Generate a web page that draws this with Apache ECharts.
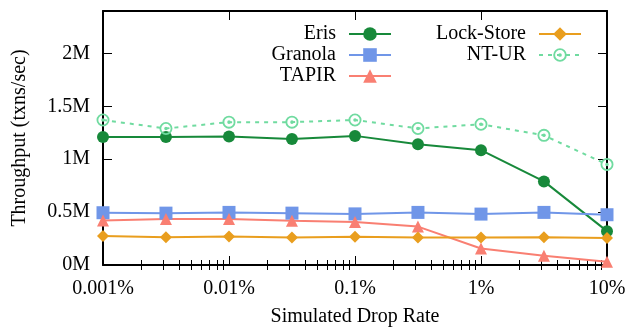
<!DOCTYPE html>
<html>
<head>
<meta charset="utf-8">
<script src="https://cdn.jsdelivr.net/npm/echarts@6/dist/echarts.min.js"></script>
<style>
  html, body { margin: 0; padding: 0; background: #fff; }
  #chart { width: 628px; height: 328px; }
</style>
</head>
<body>
<div id="chart"></div>
<script>
// drop rate (%) at each measured point
const dropRates = [0.001, 0.00316, 0.01, 0.0316, 0.1, 0.316, 1, 3.16, 10];

// throughput, txns/sec
const eris      = [1.21e6, 1.21e6, 1.215e6, 1.19e6, 1.22e6, 1.14e6, 1.085e6, 0.79e6, 0.32e6];
const granola   = [0.494e6, 0.49e6, 0.497e6, 0.49e6, 0.483e6, 0.497e6, 0.481e6, 0.497e6, 0.475e6];
const tapir     = [0.42e6, 0.435e6, 0.435e6, 0.418e6, 0.406e6, 0.363e6, 0.156e6, 0.087e6, 0.03e6];
const lockStore = [0.275e6, 0.262e6, 0.269e6, 0.26e6, 0.266e6, 0.26e6, 0.26e6, 0.262e6, 0.256e6];
const ntUr      = [1.37e6, 1.29e6, 1.35e6, 1.35e6, 1.37e6, 1.29e6, 1.33e6, 1.225e6, 0.95e6];

const xMajorTicks = [0.001, 0.01, 0.1, 1, 10];
const yTicks = [0, 0.5e6, 1e6, 1.5e6, 2e6];

const xMinorTicks = [];
for (const d of xMajorTicks.slice(0, -1))
  for (let k = 2; k <= 9; k++) xMinorTicks.push(+(k * d).toPrecision(3));

const FONT = "Liberation Serif";
const pts = ys => dropRates.map((x, i) => [x, ys[i]]);

// open circle with a dot in the middle
const ringDot = "path://M10,0A10,10 0 1,1 10,20A10,10 0 1,1 10,0Z" +
  "M10,2.8A7.2,7.2 0 1,0 10,17.2A7.2,7.2 0 1,0 10,2.8Z" +
  "M10,7.3A2.7,2.7 0 1,1 10,12.7A2.7,2.7 0 1,1 10,7.3Z";

const SER = [
  { name: "Eris",       data: eris,      color: "#17893a", symbol: "circle",   size: 12 },
  { name: "Granola",    data: granola,   color: "#7096e8", symbol: "rect",     size: 13 },
  { name: "TAPIR",      data: tapir,     color: "#f97f72", symbol: "triangle", size: 12 },
  { name: "Lock-Store", data: lockStore, color: "#e99e1e", symbol: "diamond",  size: 12 },
  { name: "NT-UR",      data: ntUr,      color: "#70dba0", symbol: ringDot,    size: 13, dash: [4, 5] },
];

// legend slots: [right edge offset, row centre y]
const legendPos = {
  "Eris": [236, 33], "Granola": [236, 54], "TAPIR": [236, 75],
  "Lock-Store": [46, 33], "NT-UR": [46, 54],
};

const logAxis = (extra) => Object.assign({
  type: "log", logBase: 10, min: 0.001, max: 10, gridIndex: 0,
  axisLine: { show: false },
  axisTick: { show: false },
  axisLabel: { show: false },
  splitLine: { show: false },
  minorTick: { show: false },
  minorSplitLine: { show: false },
}, extra);

const chart = echarts.init(document.getElementById("chart"), null, { renderer: "canvas" });

chart.setOption({
  animation: false,
  backgroundColor: "#fff",
  textStyle: { fontFamily: FONT },
  grid: { left: 103, right: 21, top: 11, bottom: 63, containLabel: false, outerBoundsMode: "none" },
  legend: SER.map(s => ({
    data: [s.name],
    right: legendPos[s.name][0],
    top: legendPos[s.name][1] - 9,
    orient: "vertical",
    align: "right",
    padding: 0,
    itemWidth: 42,
    itemHeight: 17,
    selectedMode: false,
    textStyle: { fontFamily: FONT, fontSize: 20, color: "#000", padding: [0, 8, 0, 0] },
  })),
  xAxis: [
    logAxis({
      position: "bottom",
      name: "Simulated Drop Rate",
      nameLocation: "middle",
      nameGap: 42,
      nameTextStyle: { fontFamily: FONT, fontSize: 20, color: "#000" },
      axisLine: { show: true, onZero: false, lineStyle: { color: "#000", width: 2 } },
      axisTick: { show: true, inside: true, length: 9, customValues: xMajorTicks,
                  lineStyle: { color: "#000", width: 1 } },
      axisLabel: { show: true, customValues: xMajorTicks, margin: 14,
                   fontFamily: FONT, fontSize: 20, color: "#000",
                   formatter: v => parseFloat(v.toPrecision(6)) + "%" },
    }),
    logAxis({
      position: "bottom",
      axisTick: { show: true, inside: true, length: 5, customValues: xMinorTicks,
                  lineStyle: { color: "#000", width: 1 } },
    }),
    logAxis({
      position: "top",
      axisLine: { show: true, onZero: false, lineStyle: { color: "#000", width: 2 } },
      axisTick: { show: true, inside: true, length: 9, customValues: xMajorTicks,
                  lineStyle: { color: "#000", width: 1 } },
    }),
    logAxis({
      position: "top",
      axisTick: { show: true, inside: true, length: 5, customValues: xMinorTicks,
                  lineStyle: { color: "#000", width: 1 } },
    }),
  ],
  yAxis: [
    {
      type: "value", min: 0, max: 2.4e6, position: "left",
      name: "Throughput (txns/sec)",
      nameLocation: "middle",
      nameGap: 73,
      nameTextStyle: { fontFamily: FONT, fontSize: 20, color: "#000" },
      splitLine: { show: false },
      axisLine: { show: true, onZero: false, lineStyle: { color: "#000", width: 2 } },
      axisTick: { show: true, inside: true, length: 9, customValues: yTicks,
                  lineStyle: { color: "#000", width: 1 } },
      axisLabel: { customValues: yTicks, margin: 13, fontFamily: FONT, fontSize: 20, color: "#000",
                   formatter: v => (v / 1e6) + "M" },
    },
    {
      type: "value", min: 0, max: 2.4e6, position: "right",
      splitLine: { show: false },
      axisLine: { show: true, onZero: false, lineStyle: { color: "#000", width: 2 } },
      axisTick: { show: true, inside: true, length: 9, customValues: yTicks,
                  lineStyle: { color: "#000", width: 1 } },
      axisLabel: { show: false },
    },
  ],
  series: SER.map(s => ({
    name: s.name,
    type: "line",
    xAxisIndex: 0,
    yAxisIndex: 0,
    data: pts(s.data),
    symbol: s.symbol,
    symbolSize: s.size,
    showAllSymbol: true,
    clip: false,
    color: s.color,
    itemStyle: { color: s.color },
    lineStyle: { color: s.color, width: 2, type: s.dash || "solid" },
    emphasis: { disabled: true },
  })),
});
</script>
</body>
</html>
